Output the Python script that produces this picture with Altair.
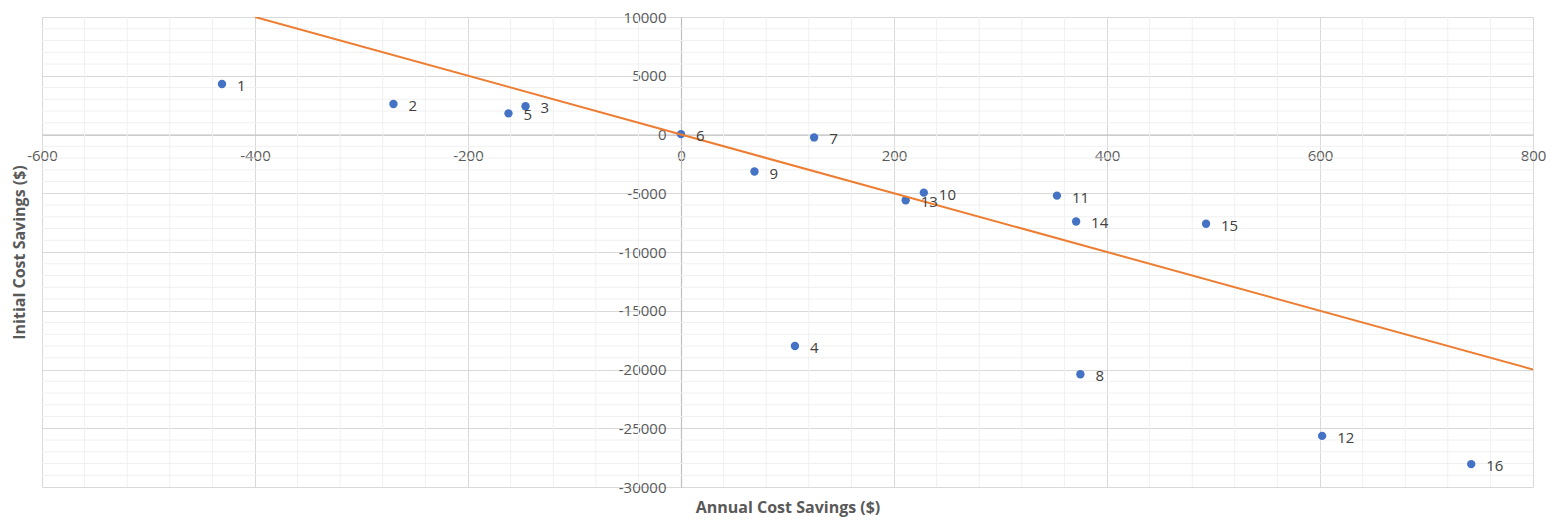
import altair as alt
import pandas as pd

# ---- data ----
point_ids = [str(i) for i in range(1, 17)]
annual_savings = [-431, -270, -146, 107, -162, 0, 125, 375, 69, 228, 353, 602, 211, 371, 493, 742]
initial_savings = [4300, 2600, 2400, -18000, 1800, 30, -250, -20400, -3150, -4950, -5200, -25650, -5600, -7400, -7600, -28050]

trend_x = [-400, 800]
trend_y = [10000, -20000]

x_ticks = [-600, -400, -200, 0, 200, 400, 600, 800]
y_ticks = [10000, 5000, 0, -5000, -10000, -15000, -20000, -25000, -30000]
x_minor = [v for v in range(-600, 801, 40) if v % 200 != 0]
y_minor = [v for v in range(-30000, 10001, 1000) if v % 5000 != 0]

X_DOMAIN = [-600, 800]
Y_DOMAIN = [-30000, 10000]

W, H = 1491, 470
X0_PX = W * (0 - X_DOMAIN[0]) / (X_DOMAIN[1] - X_DOMAIN[0])   # pixel position of x = 0
Y0_PX = H * (Y_DOMAIN[1] - 0) / (Y_DOMAIN[1] - Y_DOMAIN[0])   # pixel position of y = 0

FONT = "Open Sans"

pts = pd.DataFrame({"id": point_ids, "x": annual_savings, "y": initial_savings})
trend = pd.DataFrame({"x": trend_x, "y": trend_y})
xm = pd.DataFrame({"x": x_minor})
ym = pd.DataFrame({"y": y_minor})

xs = alt.Scale(domain=X_DOMAIN, nice=False, zero=False)
ys = alt.Scale(domain=Y_DOMAIN, nice=False, zero=False)

x_axis = alt.Axis(
    values=x_ticks, grid=True, gridColor="#d9d9d9", gridWidth=1,
    ticks=False, domain=True, domainColor="#bfbfbf", domainWidth=1.2,
    offset=-(H - Y0_PX), labelPadding=14, labelFlush=False, labelOverlap=False,
    labelExpr="datum.value + ''",
    labelFont=FONT, labelFontSize=15, labelColor="#595959",
    title="Annual Cost Savings ($)", titleFont=FONT, titleFontSize=16,
    titleFontWeight="bold", titleColor="#595959",
    titleX=W / 2, titleY=H - Y0_PX + 20, titleBaseline="middle", titleAnchor="middle",
)
y_axis = alt.Axis(
    values=y_ticks, grid=True, gridColor="#d9d9d9", gridWidth=1,
    ticks=False, domain=True, domainColor="#bfbfbf", domainWidth=1.2,
    offset=-X0_PX, labelPadding=15, labelFlush=False, labelOverlap=False,
    labelExpr="datum.value + ''",
    labelFont=FONT, labelFontSize=15, labelColor="#595959",
    title="Initial Cost Savings ($)", titleFont=FONT, titleFontSize=16,
    titleFontWeight="bold", titleColor="#595959",
    titleX=-(X0_PX + 23), titleY=H / 2, titleBaseline="middle", titleAnchor="middle",
    titleAngle=270,
)

X = lambda: alt.X("x:Q", scale=xs, axis=x_axis)
Y = lambda: alt.Y("y:Q", scale=ys, axis=y_axis)

minor_x = alt.Chart(xm).mark_rule(color="#f0f0f0", strokeWidth=1).encode(x=X())
minor_y = alt.Chart(ym).mark_rule(color="#f0f0f0", strokeWidth=1).encode(y=Y())

points = alt.Chart(pts).mark_circle(size=70, color="#4472C4", opacity=1).encode(x=X(), y=Y())

labels = alt.Chart(pts).mark_text(
    align="left", baseline="middle", dx=15, dy=2,
    font=FONT, fontSize=15, color="#404040"
).encode(x=X(), y=Y(), text="id:N")

line = alt.Chart(trend).mark_line(color="#ED7D31", strokeWidth=2, clip=True).encode(x=X(), y=Y())

chart = alt.layer(minor_x, minor_y, points, line, labels).properties(
    width=W, height=H,
    autosize=alt.AutoSizeParams(type="none"),
    padding={"left": 34, "top": 9, "right": 23, "bottom": 36},
).configure(background="white", view=alt.ViewConfig(stroke=None))

chart.save("out.html", embed_options={"renderer": "svg", "actions": False})
